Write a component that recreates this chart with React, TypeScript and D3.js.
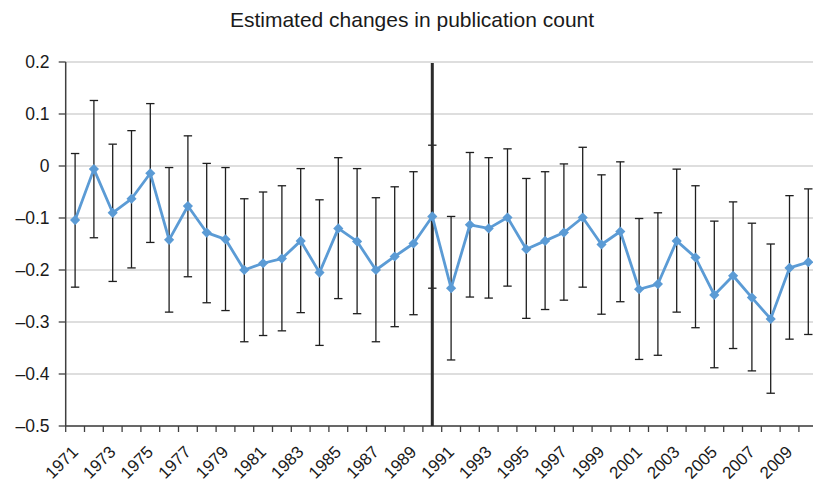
import React from "react";
import * as d3 from "d3";

const years: number[] = d3.range(1971, 2011);

const estimates: number[] = [
  -0.104, -0.006, -0.090, -0.063, -0.014, -0.142, -0.077, -0.128, -0.141, -0.200,
  -0.187, -0.178, -0.144, -0.205, -0.120, -0.145, -0.200, -0.174, -0.149, -0.097,
  -0.235, -0.113, -0.120, -0.099, -0.160, -0.144, -0.128, -0.099, -0.151, -0.126,
  -0.237, -0.227, -0.144, -0.176, -0.248, -0.211, -0.253, -0.294, -0.196, -0.185,
];

const upperBounds: number[] = [
  0.024, 0.126, 0.042, 0.068, 0.120, -0.003, 0.058, 0.005, -0.003, -0.063,
  -0.050, -0.038, -0.005, -0.065, 0.016, -0.005, -0.061, -0.040, -0.011, 0.040,
  -0.097, 0.026, 0.016, 0.033, -0.024, -0.011, 0.004, 0.036, -0.017, 0.008,
  -0.101, -0.090, -0.006, -0.038, -0.106, -0.069, -0.110, -0.150, -0.057, -0.044,
];

const lowerBounds: number[] = [
  -0.233, -0.138, -0.222, -0.196, -0.147, -0.281, -0.213, -0.263, -0.278, -0.338,
  -0.326, -0.317, -0.282, -0.345, -0.255, -0.284, -0.338, -0.309, -0.286, -0.235,
  -0.373, -0.252, -0.254, -0.231, -0.293, -0.276, -0.258, -0.233, -0.285, -0.261,
  -0.372, -0.364, -0.281, -0.311, -0.388, -0.351, -0.394, -0.437, -0.333, -0.324,
];

const yTicks: number[] = [0.2, 0.1, 0, -0.1, -0.2, -0.3, -0.4, -0.5];
const breakYear = 1990;
const title = "Estimated changes in publication count";

const W = 813;
const H = 482;
const FONT = "'Liberation Sans', Arial, Helvetica, sans-serif";

export default function App() {
  const x = d3.scaleBand<number>().domain(years).range([65.7, 817.7]).padding(0);
  const y = d3.scaleLinear().domain([-0.5, 0.2]).range([426, 62]);
  const cx = (yr: number) => (x(yr) as number) + x.bandwidth() / 2;
  const left = x.range()[0];
  const right = x.range()[1];
  const bottom = y(-0.5);

  const fmt = (v: number) => {
    const s = Math.abs(v) < 1e-9 ? "0" : d3.format(".1f")(Math.abs(v));
    return v < -1e-9 ? "\u2013" + s : s;
  };

  const line = d3
    .line<number>()
    .x((_, i) => cx(years[i]))
    .y((v) => y(v));

  const diamond = d3.symbol().type(d3.symbolDiamond2).size(66)();
  const capHalf = 4.2;

  return (
    <svg
      width={W}
      height={H}
      style={{ position: "absolute", left: 0, top: 0, background: "#fff" }}
      fontFamily={FONT}
    >
      <text x={412} y={27} textAnchor="middle" fontSize={21} fill="#1a1a1a">
        {title}
      </text>

      {/* horizontal gridlines */}
      {yTicks.map((t) => (
        <line key={"g" + t} x1={left} x2={right} y1={y(t)} y2={y(t)} stroke="#d3d3d3" strokeWidth={1.3} />
      ))}

      {/* y axis */}
      <line x1={left} x2={left} y1={y(0.2)} y2={bottom} stroke="#404040" strokeWidth={1.5} />
      {yTicks.map((t) => (
        <g key={"yt" + t}>
          <line x1={left - 7} x2={left} y1={y(t)} y2={y(t)} stroke="#404040" strokeWidth={1.3} />
          <text x={49.5} y={y(t)} dy="0.36em" textAnchor="end" fontSize={17.5} fill="#1a1a1a">
            {fmt(t)}
          </text>
        </g>
      ))}

      {/* x axis */}
      <line x1={left} x2={right} y1={bottom} y2={bottom} stroke="#404040" strokeWidth={1.5} />
      {years.map((yr) => (
        <line
          key={"xt" + yr}
          x1={x(yr) as number}
          x2={x(yr) as number}
          y1={bottom}
          y2={bottom + 6}
          stroke="#404040"
          strokeWidth={1.3}
        />
      ))}
      {years
        .filter((yr) => (yr - 1971) % 2 === 0)
        .map((yr) => (
          <text
            key={"xl" + yr}
            transform={`translate(${cx(yr) + 4},${bottom + 27}) rotate(-45)`}
            textAnchor="end"
            fontSize={17}
            fill="#1a1a1a"
          >
            {yr}
          </text>
        ))}

      {/* error bars */}
      {years.map((yr, i) => (
        <g key={"eb" + yr} stroke="#1e1e1e" strokeWidth={1.3}>
          <line x1={cx(yr)} x2={cx(yr)} y1={y(upperBounds[i])} y2={y(lowerBounds[i])} />
          <line x1={cx(yr) - capHalf} x2={cx(yr) + capHalf} y1={y(upperBounds[i])} y2={y(upperBounds[i])} />
          <line x1={cx(yr) - capHalf} x2={cx(yr) + capHalf} y1={y(lowerBounds[i])} y2={y(lowerBounds[i])} />
        </g>
      ))}

      {/* break marker */}
      <line x1={cx(breakYear)} x2={cx(breakYear)} y1={y(0.2) + 1} y2={bottom} stroke="#2b2b2b" strokeWidth={3} />

      {/* estimate series */}
      <path d={line(estimates) ?? ""} fill="none" stroke="#5b9bd5" strokeWidth={2.8} strokeLinejoin="round" />
      {years.map((yr, i) => (
        <path key={"m" + yr} d={diamond ?? ""} transform={`translate(${cx(yr)},${y(estimates[i])})`} fill="#5b9bd5" />
      ))}
    </svg>
  );
}
